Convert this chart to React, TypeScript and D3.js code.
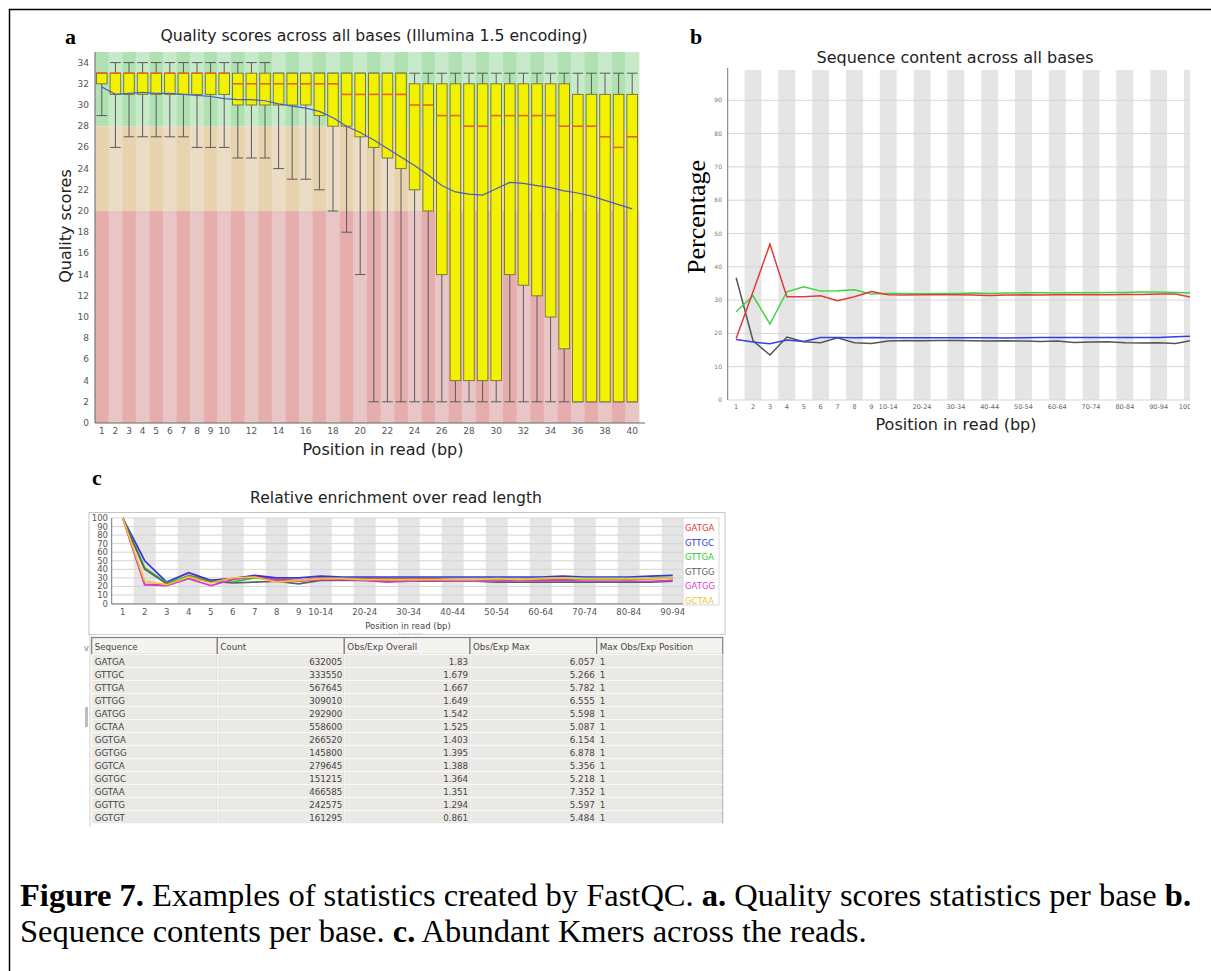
import * as d3 from "d3";

// ---------- panel a: per base quality (Illumina 1.5) ----------
const qualPositions = ["1","2","3","4","5","6","7","8","9","10","11","12","13","14","15","16","17","18","19","20",
  "21","22","23","24","25","26","27","28","29","30","31","32","33","34","35","36","37","38","39","40"];
const qualXTicks = ["1","2","3","4","5","6","7","8","9","10","12","14","16","18","20","22","24","26","28","30","32","34","36","38","40"];
const qualYTicks = [0,2,4,6,8,10,12,14,16,18,20,22,24,26,28,30,32,34];
const qualUpper = [33,33,33,33,33,33,33,33,33,33,33,33,33,33,33,33,33,33,33,33,33,33,33,32,32,32,32,32,32,32,32,32,32,32,32,31,31,31,31,31];
const qualLower = [32,31,31,31,31,31,31,31,31,31,30,30,30,30,30,30,29,28,28,27,26,25,24,22,20,14,4,4,4,4,14,13,12,10,7,2,2,2,2,2];
const qualMedian = [33,33,33,33,33,33,33,33,33,33,32,32,32,32,32,32,32,32,31,31,31,31,31,30,30,29,29,28,28,29,29,29,29,29,28,28,28,27,26,27];
const qualP90 = [33,34,34,34,34,34,34,34,34,34,34,34,34,33,33,33,33,33,33,33,33,33,33,33,33,33,33,33,33,33,33,33,33,33,33,33,33,33,33,33];
const qualP10 = [29,26,27,27,27,27,27,26,26,26,25,25,25,24,23,23,22,20,18,14,2,2,2,2,2,2,2,2,2,2,2,2,2,2,2,2,2,2,2,2];
const qualMean = [31.7,31.0,31.1,31.2,31.1,31.1,31.0,30.9,30.8,30.6,30.5,30.5,30.4,30.1,29.9,29.7,29.4,28.8,28.0,27.4,
  26.7,25.9,25.1,24.3,23.4,22.4,21.8,21.6,21.5,22.1,22.7,22.6,22.4,22.2,21.9,21.7,21.4,21.0,20.6,20.2];

// ---------- panel b: sequence content ----------
const contentCats = ["1","2","3","4","5","6","7","8","9","10-14","15-19","20-24","25-29","30-34","35-39","40-44","45-49",
  "50-54","55-59","60-64","65-69","70-74","75-79","80-84","85-89","90-94","95-99","100-101"];
const contentXTicks = ["1","2","3","4","5","6","7","8","9","10-14","20-24","30-34","40-44","50-54","60-64","70-74","80-84","90-94","100-101"];
const contentYTicks = [0,10,20,30,40,50,60,70,80,90];
const contentT = [18.5,32.5,46.8,31,31,31.3,29.8,31,32.6,31.6,31.5,31.6,31.6,31.6,31.5,31.4,31.5,31.6,31.5,31.6,31.6,31.6,31.6,31.7,31.7,31.8,31.8,30.8];
const contentA = [26.5,31.3,22.8,32.5,34,32.7,32.8,33.1,31.8,32,32,31.9,32,32,32.1,32,32.1,32.2,32.2,32.1,32.2,32.2,32.3,32.3,32.4,32.4,32.3,32.1];
const contentC = [18.2,17.4,16.9,18,17.6,18.8,18.8,18.7,18.8,18.7,18.7,18.7,18.7,18.7,18.7,18.7,18.6,18.7,18.8,18.8,18.8,18.8,18.8,18.8,18.8,18.8,19,19.2];
const contentG = [36.7,17.8,13.5,18.9,17.5,17.2,18.7,17.2,17,17.7,17.9,17.8,17.9,17.9,17.8,17.7,17.8,17.7,17.6,17.7,17.3,17.4,17.5,17.2,17.1,17.2,17.0,17.9];

// ---------- panel c: kmer enrichment ----------
const kmerCats = ["1","2","3","4","5","6","7","8","9","10-14","15-19","20-24","25-29","30-34","35-39","40-44","45-49",
  "50-54","55-59","60-64","65-69","70-74","75-79","80-84","85-89","90-94"];
const kmerXTicks = ["1","2","3","4","5","6","7","8","9","10-14","20-24","30-34","40-44","50-54","60-64","70-74","80-84","90-94"];
const kmerYTicks = [0,10,20,30,40,50,60,70,80,90,100];
const kmerGATGA = [100,22,22,33,27,29,32,28,27,30,29,29,29,29,29,28,28,28,28,28,28,29,29,28,29,30];
const kmerGTTGC = [100,50,25,36,27,29,33,30,30,32,31,31,31,31,31,31,31,31,31,31,32,31,31,31,32,33];
const kmerGTTGA = [100,42,24,32,26,25,30,27,26,29,29,28,28,28,28,28,28,28,28,29,29,28,28,28,29,30];
const kmerGTTGG = [100,40,23,30,26,24,25,26,23,27,27,27,26,26,26,26,26,25,25,25,25,25,25,25,25,26];
const kmerGATGG = [100,22,21,29,21,28,31,27,26,28,28,27,25,26,27,26,26,26,27,27,27,26,26,26,26,27];
const kmerGCTAA = [100,26,22,31,24,30,31,25,27,29,29,28,28,28,28,28,28,29,28,29,30,29,29,29,29,30];

// ---------- kmer table ----------
const tableHeaders = ["Sequence", "Count", "Obs/Exp Overall", "Obs/Exp Max", "Max Obs/Exp Position"];
const tableSeqs = ["GATGA","GTTGC","GTTGA","GTTGG","GATGG","GCTAA","GGTGA","GGTGG","GGTCA","GGTGC","GGTAA","GGTTG","GGTGT"];
const tableCounts = ["632005","333550","567645","309010","292900","558600","266520","145800","279645","151215","466585","242575","161295"];
const tableOverall = ["1.83","1.679","1.667","1.649","1.542","1.525","1.403","1.395","1.388","1.364","1.351","1.294","0.861"];
const tableMax = ["6.057","5.266","5.782","6.555","5.598","5.087","6.154","6.878","5.356","5.218","7.352","5.597","5.484"];
const tableMaxPos = ["1","1","1","1","1","1","1","1","1","1","1","1","1"];

const sans = "DejaVu Sans, Verdana, sans-serif";
const serif = "Liberation Serif, Times New Roman, serif";

function PanelA() {
  const x = d3.scaleBand<string>().domain(qualPositions).range([95, 639]);
  const y = d3.scaleLinear().domain([0, 35]).range([423, 52]);
  const bw = x.bandwidth();
  const boxW = bw * 0.78;
  const zones = [
    { lo: 28, hi: 35, dark: "#afe1b2", light: "#c9eaca" },
    { lo: 20, hi: 28, dark: "#e7d4ae", light: "#ebdcc6" },
    { lo: 0, hi: 20, dark: "#e6adad", light: "#e9c6c6" },
  ];
  const cx = (i: number) => x(qualPositions[i])! + bw / 2;
  const meanPath = d3.line<number>().x((_, i) => cx(i)).y((d) => y(d))(qualMean)!;

  return (
    <g>
      {qualPositions.map((p, i) =>
        zones.map((z) => (
          <rect key={p + "-" + z.lo} x={x(p)} y={y(z.hi)} width={bw + 0.4} height={y(z.lo) - y(z.hi)}
            fill={i % 2 === 0 ? z.dark : z.light} />
        ))
      )}
      {qualPositions.map((p, i) => (
        <g key={p} stroke="#5a5a5a" strokeWidth={1}>
          <line x1={cx(i)} x2={cx(i)} y1={y(qualP90[i])} y2={y(qualP10[i])} />
          <line x1={cx(i) - boxW / 2} x2={cx(i) + boxW / 2} y1={y(qualP90[i])} y2={y(qualP90[i])} />
          <line x1={cx(i) - boxW / 2} x2={cx(i) + boxW / 2} y1={y(qualP10[i])} y2={y(qualP10[i])} />
          <rect x={cx(i) - boxW / 2} y={y(qualUpper[i])} width={boxW} height={y(qualLower[i]) - y(qualUpper[i])}
            fill="#f2f200" stroke="#7d7a3a" />
          <line x1={cx(i) - boxW / 2} x2={cx(i) + boxW / 2} y1={y(qualMedian[i])} y2={y(qualMedian[i])}
            stroke="#e4661e" strokeWidth={1.6} />
        </g>
      ))}
      <path d={meanPath} fill="none" stroke="#4d5cc0" strokeWidth={1.2} />
      <line x1={95} x2={95} y1={52} y2={423} stroke="#666" />
      <line x1={95} x2={645} y1={423} y2={423} stroke="#666" />
      {qualYTicks.map((t) => (
        <text key={t} x={89} y={y(t) + 3} textAnchor="end" fontSize={9} fill="#555" fontFamily={sans}>{t}</text>
      ))}
      {qualXTicks.map((t) => (
        <text key={t} x={x(t)! + bw / 2} y={434} textAnchor="middle" fontSize={9} fill="#555" fontFamily={sans}>{t}</text>
      ))}
      <text x={374} y={41} textAnchor="middle" fontSize={15.7} fill="#222" fontFamily={sans}>
        Quality scores across all bases (Illumina 1.5 encoding)
      </text>
      <text x={383} y={455} textAnchor="middle" fontSize={16} fill="#222" fontFamily={sans}>Position in read (bp)</text>
      <text transform="translate(71,226) rotate(-90)" textAnchor="middle" fontSize={16} fill="#222" fontFamily={sans}>Quality scores</text>
      <text x={65} y={44} fontSize={22} fontWeight="bold" fontFamily={serif}>a</text>
    </g>
  );
}

function PanelB() {
  const x = d3.scaleBand<string>().domain(contentCats).range([727.7, 727.7 + 16.9 * contentCats.length]);
  const y = d3.scaleLinear().domain([0, 100]).range([400, 67]);
  const bw = x.bandwidth();
  const series = [
    { values: contentG, color: "#555555" },
    { values: contentC, color: "#3b3be6" },
    { values: contentA, color: "#3fd43f" },
    { values: contentT, color: "#e23a3a" },
  ];
  const line = d3.line<number>().x((_, i) => x(contentCats[i])! + bw / 2).y((d) => y(d));
  return (
    <g>
      <defs>
        <clipPath id="clipB"><rect x={680} y={60} width={510} height={360} /></clipPath>
      </defs>
      <g clipPath="url(#clipB)">
        {contentCats.map((c, i) => i % 2 === 1 ? (
          <rect key={c} x={x(c)} y={70} width={bw} height={330} fill="#e5e5e5" />
        ) : null)}
        {contentYTicks.map((t) => (
          <line key={t} x1={727.7} x2={1200} y1={y(t)} y2={y(t)} stroke="#d6d6d6" strokeWidth={1} />
        ))}
        {series.map((s, k) => (
          <path key={k} d={line(s.values)!} fill="none" stroke={s.color} strokeWidth={1.5} />
        ))}
        {contentXTicks.map((t) => (
          <text key={t} x={x(t)! + bw / 2} y={409} textAnchor="middle" fontSize={6.5} fill="#666" fontFamily={sans}>{t}</text>
        ))}
      </g>
      <line x1={727.7} x2={727.7} y1={68} y2={400} stroke="#777" />
      {contentYTicks.map((t) => (
        <text key={t} x={722} y={y(t) + 2} textAnchor="end" fontSize={6} fill="#777" fontFamily={sans}>{t}</text>
      ))}
      <text x={955} y={63} textAnchor="middle" fontSize={16} fill="#222" fontFamily={sans}>Sequence content across all bases</text>
      <text x={956} y={430} textAnchor="middle" fontSize={16} fill="#222" fontFamily={sans}>Position in read (bp)</text>
      <text transform="translate(705,217) rotate(-90)" textAnchor="middle" fontSize={26} fill="#000" fontFamily={serif}>Percentage</text>
      <text x={690} y={44} fontSize={22} fontWeight="bold" fontFamily={serif}>b</text>
    </g>
  );
}

function PanelC() {
  const x = d3.scaleBand<string>().domain(kmerCats).range([111.7, 111.7 + 22 * kmerCats.length]);
  const y = d3.scaleLinear().domain([0, 100]).range([603.5, 518]);
  const bw = x.bandwidth();
  const series = [
    { name: "GATGA", values: kmerGATGA, color: "#e83434" },
    { name: "GTTGC", values: kmerGTTGC, color: "#3434e0" },
    { name: "GTTGA", values: kmerGTTGA, color: "#2ecc2e" },
    { name: "GTTGG", values: kmerGTTGG, color: "#5f5f5f" },
    { name: "GATGG", values: kmerGATGG, color: "#d63ad6" },
    { name: "GCTAA", values: kmerGCTAA, color: "#f2c230" },
  ];
  const line = d3.line<number>().x((_, i) => x(kmerCats[i])! + bw / 2).y((d) => y(d));
  const right = x.range()[1];
  return (
    <g>
      <rect x={89} y={512.5} width={636} height={122} fill="#fff" stroke="#c4c4c4" />
      {kmerCats.map((c, i) => i % 2 === 1 ? (
        <rect key={c} x={x(c)} y={518} width={bw} height={85.5} fill="#e5e5e5" />
      ) : null)}
      {kmerYTicks.map((t) => (
        <line key={t} x1={111.7} x2={right} y1={y(t)} y2={y(t)} stroke="#d4d4d4" />
      ))}
      {series.map((s) => (
        <path key={s.name} d={line(s.values)!} fill="none" stroke={s.color} strokeWidth={1.7} />
      ))}
      <line x1={111.7} x2={111.7} y1={518} y2={604} stroke="#777" />
      <line x1={111.7} x2={right} y1={604} y2={604} stroke="#777" />
      {kmerYTicks.map((t) => (
        <text key={t} x={108} y={y(t) + 3} textAnchor="end" fontSize={8.5} fill="#555" fontFamily={sans}>{t}</text>
      ))}
      {kmerXTicks.map((t) => (
        <text key={t} x={x(t)! + bw / 2} y={615} textAnchor="middle" fontSize={8.5} fill="#555" fontFamily={sans}>{t}</text>
      ))}
      <rect x={683} y={518} width={36} height={87} fill="#fff" stroke="#d8d8d8" />
      {series.map((s, i) => (
        <text key={s.name} x={685} y={531 + i * 14.5} fontSize={8.5} fill={s.color} fontFamily={sans}>{s.name}</text>
      ))}
      <text x={396} y={503} textAnchor="middle" fontSize={15.6} fill="#222" fontFamily={sans}>Relative enrichment over read length</text>
      <text x={408} y={629} textAnchor="middle" fontSize={8.5} fill="#444" fontFamily={sans}>Position in read (bp)</text>
      <line x1={399} x2={422} y1={634} y2={634} stroke="#999" strokeDasharray="1.5,1.5" />
      <text x={92} y={485} fontSize={22} fontWeight="bold" fontFamily={serif}>c</text>
    </g>
  );
}

function KmerTable() {
  const cols = [91.7, 217.3, 344.3, 470, 596.7, 722.7];
  const headTop = 637.5;
  const headH = 17;
  const rowH = 13;
  const top = headTop + headH;
  const rightAligned = [false, true, true, true, false];
  const rows = tableSeqs.map((s, i) => [s, tableCounts[i], tableOverall[i], tableMax[i], tableMaxPos[i]]);
  return (
    <g fontFamily={sans} fontSize={8.7} fill="#444">
      <line x1={90} x2={725} y1={634.5} y2={634.5} stroke="#cfcfcf" />
      <line x1={90} x2={90} y1={634.5} y2={827} stroke="#cfcfcf" />
      <rect x={85} y={707} width={3} height={20} fill="#bdbdbd" />
      <text x={84} y={651} fontSize={8} fill="#777">v</text>
      {tableHeaders.map((h, j) => (
        <g key={h}>
          <rect x={cols[j]} y={headTop} width={cols[j + 1] - cols[j]} height={headH} fill="#f4f3f0" stroke="#7f7f7f" strokeWidth={1.2} />
          <text x={cols[j] + 3} y={headTop + 12} fill="#444">{h}</text>
        </g>
      ))}
      {rows.map((r, i) => (
        <g key={i}>
          {r.map((v, j) => (
            <g key={j}>
              <rect x={cols[j]} y={top + i * rowH} width={cols[j + 1] - cols[j]} height={rowH}
                fill="#ebe9e5" stroke="#f9f9f9" strokeWidth={1} />
              <line x1={cols[j + 1]} x2={cols[j + 1]} y1={top + i * rowH} y2={top + (i + 1) * rowH} stroke="#a9a9a9" />
              <text x={rightAligned[j] ? cols[j + 1] - 2 : cols[j] + 3} y={top + i * rowH + 10}
                textAnchor={rightAligned[j] ? "end" : "start"} fill="#444">{v}</text>
            </g>
          ))}
        </g>
      ))}
    </g>
  );
}

function Caption() {
  return (
    <g fontFamily={serif} fontSize={32.5} fill="#000">
      <text x={20} y={906}>
        <tspan fontWeight="bold">Figure 7.</tspan>
        <tspan> Examples of statistics created by FastQC. </tspan>
        <tspan fontWeight="bold">a.</tspan>
        <tspan> Quality scores statistics per base </tspan>
        <tspan fontWeight="bold">b.</tspan>
      </text>
      <text x={20} y={942}>
        <tspan>Sequence contents per base. </tspan>
        <tspan fontWeight="bold">c.</tspan>
        <tspan> Abundant Kmers across the reads.</tspan>
      </text>
    </g>
  );
}

export default function App() {
  return (
    <div style={{ position: "absolute", left: 0, top: 0 }}>
      <svg width={1211} height={971} style={{ display: "block", background: "#fff" }}>
        <line x1={9} x2={1211} y1={9.5} y2={9.5} stroke="#000" strokeWidth={1.5} />
        <line x1={9.5} x2={9.5} y1={9} y2={971} stroke="#000" strokeWidth={1.5} />
        <PanelA />
        <PanelB />
        <PanelC />
        <KmerTable />
        <Caption />
      </svg>
    </div>
  );
}
